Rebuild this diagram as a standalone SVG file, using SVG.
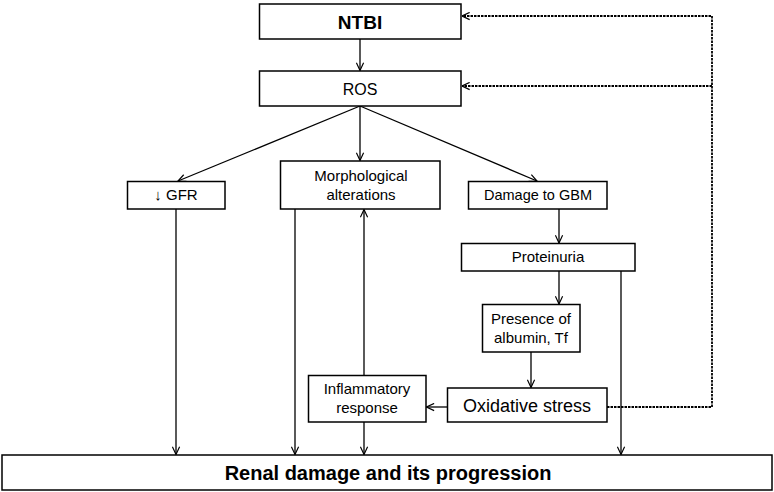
<svg xmlns="http://www.w3.org/2000/svg" width="774" height="492" viewBox="0 0 774 492">
<defs>
<style>
.box{fill:#fff;stroke:#000;stroke-width:1.5}
.t{font-family:"Liberation Sans",Arial,sans-serif;fill:#000;text-anchor:middle}
.ln{fill:none;stroke:#000;stroke-width:1.3}
.dl{fill:none;stroke:#000;stroke-width:1.8;stroke-dasharray:2.5 1}
</style>
<marker id="ah" viewBox="0 0 10 10" refX="9.5" refY="5" markerWidth="9" markerHeight="9" markerUnits="userSpaceOnUse" orient="auto">
<path d="M1,1 L9.5,5 L1,9" fill="none" stroke="#000" stroke-width="1.3"/>
</marker>
</defs>
<rect width="774" height="492" fill="#fff"/>
<g id="connectors">
<line class="ln" x1="360" y1="39" x2="360" y2="70.5" marker-end="url(#ah)"/>
<line class="ln" x1="360" y1="106" x2="178" y2="181" marker-end="url(#ah)"/>
<line class="ln" x1="360" y1="106" x2="360" y2="160.5" marker-end="url(#ah)"/>
<line class="ln" x1="360" y1="106" x2="537" y2="181" marker-end="url(#ah)"/>
<line class="ln" x1="559" y1="209" x2="559" y2="243" marker-end="url(#ah)"/>
<line class="ln" x1="559" y1="271" x2="559" y2="304" marker-end="url(#ah)"/>
<line class="ln" x1="531" y1="352" x2="531" y2="387.5" marker-end="url(#ah)"/>
<line class="ln" x1="447" y1="407" x2="426.5" y2="407" marker-end="url(#ah)"/>
<line class="ln" x1="364" y1="375" x2="364" y2="209.5" marker-end="url(#ah)"/>
<line class="ln" x1="364" y1="422" x2="364" y2="454.5" marker-end="url(#ah)"/>
<line class="ln" x1="295" y1="209" x2="295" y2="454.5" marker-end="url(#ah)"/>
<line class="ln" x1="176" y1="209" x2="176" y2="454.5" marker-end="url(#ah)"/>
<line class="ln" x1="621" y1="271" x2="621" y2="454.5" marker-end="url(#ah)"/>
<polyline class="dl" points="607,407 712,407 712,16 462,16" marker-end="url(#ah)"/>
<line class="dl" x1="712" y1="86" x2="462" y2="86" marker-end="url(#ah)"/>
</g>
<g id="ntbi"><rect class="box" x="259.5" y="4" width="201.5" height="35"/><text class="t" x="360" y="29" font-size="19" font-weight="bold">NTBI</text></g>
<g id="ros"><rect class="box" x="259.5" y="71" width="201.5" height="35"/><text class="t" x="360" y="95" font-size="16">ROS</text></g>
<g id="gfr"><rect class="box" x="127.5" y="181.5" width="97.5" height="27.5"/><text class="t" x="176" y="199.5" font-size="15">↓ GFR</text></g>
<g id="morph"><rect class="box" x="280.5" y="161" width="159.5" height="48"/><text class="t" x="361" y="181" font-size="15">Morphological</text><text class="t" x="361" y="199.5" font-size="15">alterations</text></g>
<g id="gbm"><rect class="box" x="468.5" y="181.5" width="138.5" height="27.5"/><text class="t" x="538" y="199.5" font-size="14.5">Damage to GBM</text></g>
<g id="proteinuria"><rect class="box" x="461.5" y="243.5" width="173.5" height="27.5"/><text class="t" x="548" y="262" font-size="15">Proteinuria</text></g>
<g id="presence"><rect class="box" x="482.5" y="304.5" width="97.5" height="47.5"/><text class="t" x="531" y="323.5" font-size="15">Presence of</text><text class="t" x="531" y="342.5" font-size="15">albumin, Tf</text></g>
<g id="inflammatory"><rect class="box" x="308.5" y="375.5" width="117.5" height="46.5"/><text class="t" x="367" y="393.5" font-size="15">Inflammatory</text><text class="t" x="367" y="413" font-size="15">response</text></g>
<g id="oxidative"><rect class="box" x="447.5" y="388" width="159.5" height="34"/><text class="t" x="527" y="412" font-size="18">Oxidative stress</text></g>
<g id="renal"><rect class="box" x="2" y="455" width="770" height="35"/><text class="t" x="388" y="480" font-size="20" font-weight="bold">Renal damage and its progression</text></g>
</svg>
